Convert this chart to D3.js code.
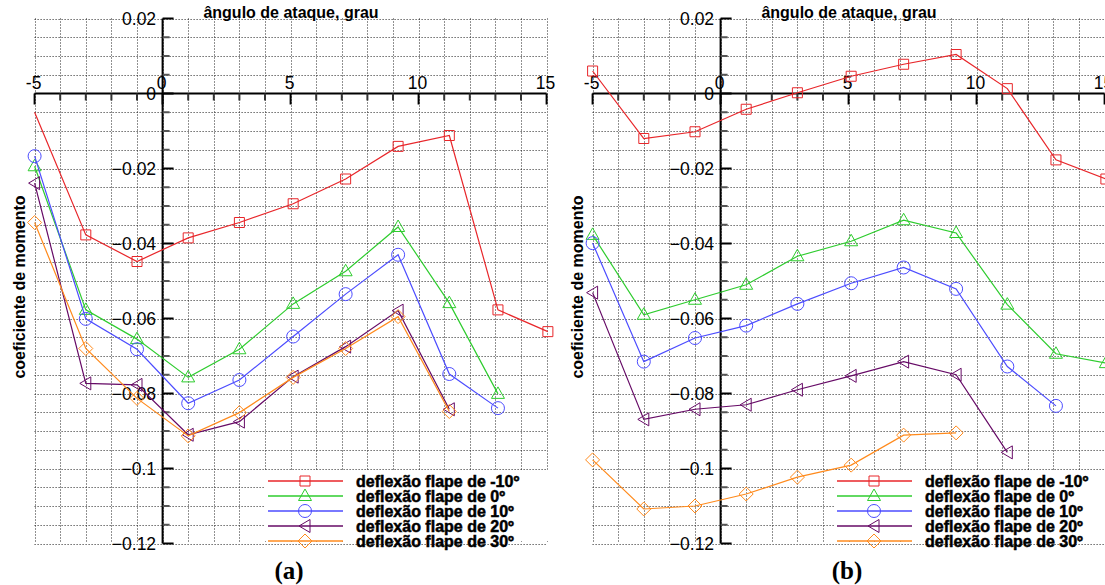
<!DOCTYPE html>
<html>
<head>
<meta charset="utf-8">
<script src="https://cdn.jsdelivr.net/npm/d3@7"></script>
<style>
  body { margin: 0; background: #fff; }
  svg { display: block; font-family: Arial, "Liberation Sans", sans-serif; }
</style>
</head>
<body>
<svg id="chart" width="1105" height="585"></svg>
<script>
// angulos de ataque (grau)
const angles = [-5, -3, -1, 1, 3, 5.1, 7.15, 9.2, 11.2, 13.1, 15.05];

// (a) coeficiente de momento
const redA = [-0.005, -0.0377, -0.0448, -0.0385, -0.0344, -0.0294, -0.0228, -0.0141, -0.0112, -0.0577, -0.0635];
const greenA = [-0.0194, -0.0577, -0.0655, -0.0757, -0.0682, -0.0561, -0.0474, -0.0356, -0.0559, -0.0801];
const blueA = [-0.0167, -0.0601, -0.0682, -0.0826, -0.0764, -0.0648, -0.0535, -0.043, -0.0748, -0.0839];
const purpleA = [-0.0239, -0.0773, -0.0777, -0.091, -0.0875, -0.0755, -0.0675, -0.0579, -0.0842];
const orangeA = [-0.0344, -0.068, -0.0813, -0.0913, -0.0851, -0.0757, -0.068, -0.0595, -0.0848];

// (b) coeficiente de momento
const redB = [0.006, -0.012, -0.0102, -0.0042, 0.0002, 0.0046, 0.0078, 0.0104, 0.0013, -0.0177, -0.0228];
const greenB = [-0.0377, -0.059, -0.055, -0.051, -0.0434, -0.0394, -0.0338, -0.0372, -0.0563, -0.0694, -0.0719];
const blueB = [-0.0399, -0.0715, -0.0652, -0.0619, -0.0561, -0.0506, -0.0464, -0.0521, -0.0728, -0.0833];
const purpleB = [-0.0531, -0.0869, -0.0842, -0.083, -0.079, -0.0753, -0.0715, -0.075, -0.0957];
const orangeB = [-0.0977, -0.1108, -0.11, -0.1068, -0.1023, -0.0991, -0.0911, -0.0905];

const legendLabels = ["deflexão flape de -10º", "deflexão flape de 0º", "deflexão flape de 10º",
                      "deflexão flape de 20º", "deflexão flape de 30º"];
const xTicks = [-5, 0, 5, 10, 15];
const yTicks = [0.02, 0, -0.02, -0.04, -0.06, -0.08, -0.1, -0.12];

const colors = ["#e8262a", "#2ecc2e", "#4c4cff", "#660a66", "#ff8a1c"];
const markers = ["square", "triangle", "circle", "left", "diamond"];

const svg = d3.select("#chart");

function markerPath(type) {
    switch (type) {
        case "square": return "M-5,-5H5V5H-5Z";
        case "triangle": return "M0,-7L6.5,4.5H-6.5Z";
        case "left": return "M-6,0L5,-6.5V6.5Z";
        case "diamond": return "M0,-7L7,0L0,7L-7,0Z";
    }
    return null;
}

function drawMarker(g, type, color, x, y) {
    if (type == "circle") {
        g.append("circle").attr("cx", x).attr("cy", y).attr("r", 6.5)
            .attr("fill", "none").attr("stroke", color).attr("stroke-width", 1);
    } else {
        g.append("path").attr("d", markerPath(type))
            .attr("transform", `translate(${x},${y})`)
            .attr("fill", "none").attr("stroke", color).attr("stroke-width", 1);
    }
}

function drawPanel(off, series, tag, legendX) {
    const x = d3.scaleLinear().domain([-5, 15]).range([34.6 + off, 546.6 + off]);
    const y = d3.scaleLinear().domain([0.02, -0.12]).range([18.5, 543.5]);
    const g = svg.append("g");

    // grade pontilhada
    const grid = g.append("g").attr("stroke", "#222").attr("stroke-width", 1)
        .attr("stroke-dasharray", "1,2");
    grid.selectAll("line.v").data(d3.range(-5, 16)).join("line")
        .attr("x1", d => Math.round(x(d)) + 0.5).attr("x2", d => Math.round(x(d)) + 0.5)
        .attr("y1", y(0.02)).attr("y2", y(-0.12));
    grid.selectAll("line.h").data(d3.range(0, 29).map(i => 0.02 - i * 0.005)).join("line")
        .attr("x1", x(-5)).attr("x2", x(15))
        .attr("y1", d => Math.round(y(d)) + 0.5).attr("y2", d => Math.round(y(d)) + 0.5);

    // eixo x (em y = 0)
    const y0 = y(0);
    g.append("line").attr("x1", x(-5)).attr("x2", x(15)).attr("y1", y0).attr("y2", y0)
        .attr("stroke", "#000").attr("stroke-width", 2);
    g.selectAll("line.xt").data(d3.range(-5, 16)).join("line")
        .attr("x1", d => x(d)).attr("x2", d => x(d))
        .attr("y1", y0).attr("y2", d => y0 + (d % 5 == 0 ? 11 : 7))
        .attr("stroke", d => d % 5 == 0 ? "#000" : "#333").attr("stroke-width", 2);
    g.selectAll("text.xl").data(xTicks).join("text")
        .attr("x", d => x(d) - 1).attr("y", y0 - 4.5)
        .attr("text-anchor", "middle").attr("font-size", 17.5)
        .text(d => d);

    // eixo y (em x = 0)
    const x0 = x(0);
    g.append("line").attr("x1", x0).attr("x2", x0).attr("y1", y(0.02)).attr("y2", y(-0.12))
        .attr("stroke", "#000").attr("stroke-width", 2);
    g.selectAll("line.yt").data(d3.range(0, 29).map(i => 0.02 - i * 0.005)).join("line")
        .attr("x1", x0).attr("x2", (d, i) => x0 + (i % 4 == 0 ? 11 : 7))
        .attr("y1", d => y(d)).attr("y2", d => y(d))
        .attr("stroke", (d, i) => i % 4 == 0 ? "#000" : "#555").attr("stroke-width", 2);
    g.selectAll("text.yl").data(yTicks).join("text")
        .attr("x", x0 - 6.5).attr("y", d => y(d)).attr("dy", "0.36em")
        .attr("text-anchor", "end").attr("font-size", 17.5)
        .text(d => d == 0 ? "0" : d3.format("")(+d.toFixed(2)));

    // titulos
    g.append("text").attr("x", off + 291).attr("y", 18).attr("text-anchor", "middle")
        .attr("font-size", 16).attr("font-weight", "bold").text("ângulo de ataque, grau");
    g.append("text").attr("transform", `translate(${off + 25},287) rotate(-90)`)
        .attr("text-anchor", "middle").attr("font-size", 16).attr("font-weight", "bold")
        .text("coeficiente de momento");

    // legenda
    const lg = g.append("g");
    lg.append("rect").attr("x", legendX - 3).attr("y", 471).attr("width", off + 556 - legendX)
        .attr("height", 70).attr("fill", "#fff");
    series.forEach((s, k) => {
        const ly = 481 + k * 15;
        lg.append("line").attr("x1", legendX).attr("x2", legendX + 75).attr("y1", ly).attr("y2", ly)
            .attr("stroke", colors[k]).attr("stroke-width", 1.5);
        drawMarker(lg, markers[k], colors[k], legendX + 37, ly);
        lg.append("text").attr("x", legendX + 88).attr("y", ly).attr("dy", "0.36em")
            .attr("font-size", 16).attr("font-weight", "bold")
            .attr("stroke", "#000").attr("stroke-width", 0.5)
            .text(legendLabels[k]);
    });

    // series
    const line = d3.line().x((d, i) => x(angles[i])).y(d => y(d));
    series.forEach((s, k) => {
        const sg = g.append("g");
        sg.append("path").datum(s).attr("d", line).attr("fill", "none")
            .attr("stroke", colors[k]).attr("stroke-width", 1.2);
        s.forEach((v, i) => {
            if (tag == "(a)" && k == 0 && i == 0) return; // sem marcador no original
            drawMarker(sg, markers[k], colors[k], x(angles[i]), y(v));
        });
    });

    svg.append("text").attr("x", off + 289).attr("y", 579).attr("text-anchor", "middle")
        .attr("font-family", "'Times New Roman', 'Liberation Serif', serif")
        .attr("font-size", 25).attr("font-weight", "bold").text(tag);
}

drawPanel(0, [redA, greenA, blueA, purpleA, orangeA], "(a)", 268);
drawPanel(558, [redB, greenB, blueB, purpleB, orangeB], "(b)", 837);
</script>
</body>
</html>
